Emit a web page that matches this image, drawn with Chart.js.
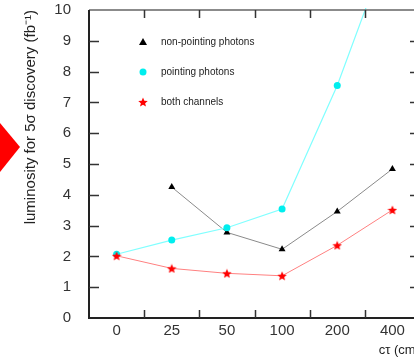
<!DOCTYPE html>
<html>
<head>
<meta charset="utf-8">
<script src="https://cdn.jsdelivr.net/npm/chart.js@4/dist/chart.umd.min.js"></script>
<style>
  html, body { margin: 0; padding: 0; background: #fff; overflow: hidden; }
  #wrap { position: relative; width: 414px; height: 357px; overflow: hidden; }
  #lumiChart { position: absolute; left: 0; top: 0; }
  #marker {
    position: absolute; left: 0; top: 110px; width: 20px; height: 75px;
    background: #ff0000; clip-path: polygon(0 13px, 20px 37px, 0 62px);
  }
</style>
</head>
<body>
<div id="wrap">
  <canvas id="lumiChart" width="440" height="357"></canvas>
  <div id="marker"></div>
</div>
<script>
// decay length categories (c tau, cm)
const ctauLabels = ['0', '25', '50', '100', '200', '400'];

// luminosity needed for 5 sigma discovery, fb^-1
const nonPointing = [null, 4.25, 2.78, 2.23, 3.46, 4.84];
const pointing = [2.07, 2.53, 2.93, 3.54, 7.55, 12.4];
const bothChannels = [2.02, 1.61, 1.45, 1.37, 2.36, 3.51];

const yTicks = [0, 1, 2, 3, 4, 5, 6, 7, 8, 9, 10];

const FONT = '"Liberation Sans", Arial, sans-serif';

/**
 * Build a small filled star to use as point style
 */
function makeStar(size, color) {
  const c = document.createElement('canvas');
  c.width = size;
  c.height = size;
  const ctx = c.getContext('2d');
  const cx = size / 2, cy = size / 2 + 0.5;
  const outer = size / 2, inner = outer * 0.45;
  ctx.beginPath();
  for (let i = 0; i < 10; i++) {
    const r = i % 2 === 0 ? outer : inner;
    const a = -Math.PI / 2 + i * Math.PI / 5;
    const x = cx + Math.cos(a) * r;
    const y = cy + Math.sin(a) * r;
    if (i === 0) ctx.moveTo(x, y); else ctx.lineTo(x, y);
  }
  ctx.closePath();
  ctx.fillStyle = color;
  ctx.fill();
  return c;
}

const starImg = makeStar(10, '#ff0000');

/**
 * Frame, inside tick marks and the in-plot legend
 */
const framePlugin = {
  id: 'frame',
  afterDraw(chart) {
    const ctx = chart.ctx;
    const area = chart.chartArea;
    const xs = chart.scales.x;
    const ys = chart.scales.y;

    ctx.save();
    // box
    ctx.strokeStyle = '#666';
    ctx.lineWidth = 1.5;
    ctx.beginPath();
    ctx.moveTo(area.left, area.top);
    ctx.lineTo(area.right, area.top);
    ctx.lineTo(area.right, area.bottom);
    ctx.stroke();
    ctx.strokeStyle = '#222';
    ctx.lineWidth = 2;
    ctx.beginPath();
    ctx.moveTo(area.left, area.top);
    ctx.lineTo(area.left, area.bottom);
    ctx.lineTo(area.right, area.bottom);
    ctx.stroke();

    // y ticks, left and right, pointing inward
    ctx.lineWidth = 1.5;
    ctx.strokeStyle = '#333';
    yTicks.slice(1, -1).forEach(v => {
      const y = Math.round(ys.getPixelForValue(v)) + 0.5;
      ctx.beginPath();
      ctx.moveTo(area.left, y);
      ctx.lineTo(area.left + 10, y);
      ctx.moveTo(area.right, y);
      ctx.lineTo(area.right - 10, y);
      ctx.stroke();
    });

    // x ticks between categories, top and bottom
    for (let i = 1; i < ctauLabels.length; i++) {
      const x = Math.round((xs.getPixelForValue(i - 1) + xs.getPixelForValue(i)) / 2) + 0.5;
      ctx.beginPath();
      ctx.moveTo(x, area.bottom);
      ctx.lineTo(x, area.bottom - 8);
      ctx.moveTo(x, area.top);
      ctx.lineTo(x, area.top + 8);
      ctx.stroke();
    }

    // legend
    const lx = 143, tx = 161;
    const rows = [42, 72, 102];
    ctx.font = '10px ' + FONT;
    ctx.textBaseline = 'middle';
    ctx.textAlign = 'left';
    chart.data.datasets.forEach((ds, i) => {
      const y = rows[i];
      ctx.fillStyle = ds.pointBackgroundColor;
      if (ds.pointStyle === 'triangle') {
        ctx.beginPath();
        ctx.moveTo(lx, y - 4);
        ctx.lineTo(lx + 4, y + 3);
        ctx.lineTo(lx - 4, y + 3);
        ctx.closePath();
        ctx.fill();
      } else if (ds.pointStyle === 'circle') {
        ctx.beginPath();
        ctx.arc(lx, y, 3.5, 0, Math.PI * 2);
        ctx.fill();
      } else {
        ctx.drawImage(starImg, lx - 5, y - 5);
      }
      ctx.fillStyle = '#222';
      ctx.fillText(ds.label, tx, y);
    });
    ctx.restore();
  }
};

const ctx = document.getElementById('lumiChart').getContext('2d');

new Chart(ctx, {
  type: 'line',
  data: {
    labels: ctauLabels,
    datasets: [
      {
        label: 'non-pointing photons',
        data: nonPointing,
        borderColor: '#8a8a8a',
        borderWidth: 1,
        pointStyle: 'triangle',
        pointRadius: 4,
        pointBackgroundColor: '#000',
        pointBorderColor: '#000',
        pointBorderWidth: 0,
        clip: 2,
        order: 3
      },
      {
        label: 'pointing photons',
        data: pointing,
        borderColor: '#80ffff',
        borderWidth: 1.2,
        pointStyle: 'circle',
        pointRadius: 3.5,
        pointBackgroundColor: '#00eeee',
        pointBorderColor: '#00eeee',
        pointBorderWidth: 0,
        clip: 2,
        order: 2
      },
      {
        label: 'both channels',
        data: bothChannels,
        borderColor: '#ff8080',
        borderWidth: 1,
        pointStyle: starImg,
        pointRadius: 5,
        pointBackgroundColor: '#ff0000',
        pointBorderColor: '#ff0000',
        clip: 2,
        order: 1
      }
    ]
  },
  options: {
    responsive: false,
    animation: false,
    layout: { padding: { left: 0, right: 20, top: 10, bottom: 0 } },
    plugins: {
      legend: { display: false },
      tooltip: { enabled: false }
    },
    scales: {
      x: {
        type: 'category',
        offset: true,
        grid: { display: false, drawTicks: false },
        border: { display: false },
        ticks: {
          font: { family: FONT, size: 15 },
          color: '#333',
          padding: 4,
          maxRotation: 0
        },
        title: {
          display: true,
          text: 'cτ (cm)',
          align: 'end',
          font: { family: FONT, size: 13 },
          color: '#222',
          padding: { top: 0, bottom: -1 }
        },
        afterFit(scale) { scale.height = 39; }
      },
      y: {
        min: 0,
        max: 10,
        grid: { display: false, drawTicks: false },
        border: { display: false },
        ticks: {
          stepSize: 1,
          font: { family: FONT, size: 15 },
          color: '#333',
          padding: 18
        },
        title: {
          display: true,
          text: 'luminosity for 5σ discovery (fb⁻¹)',
          align: 'end',
          font: { family: FONT, size: 15 },
          color: '#222',
          padding: { top: 22, bottom: 0 }
        },
        afterFit(scale) {
          scale.width = 89;
          scale.paddingTop = 0;
          scale.paddingBottom = 0;
        }
      }
    }
  },
  plugins: [framePlugin]
});
</script>
</body>
</html>
